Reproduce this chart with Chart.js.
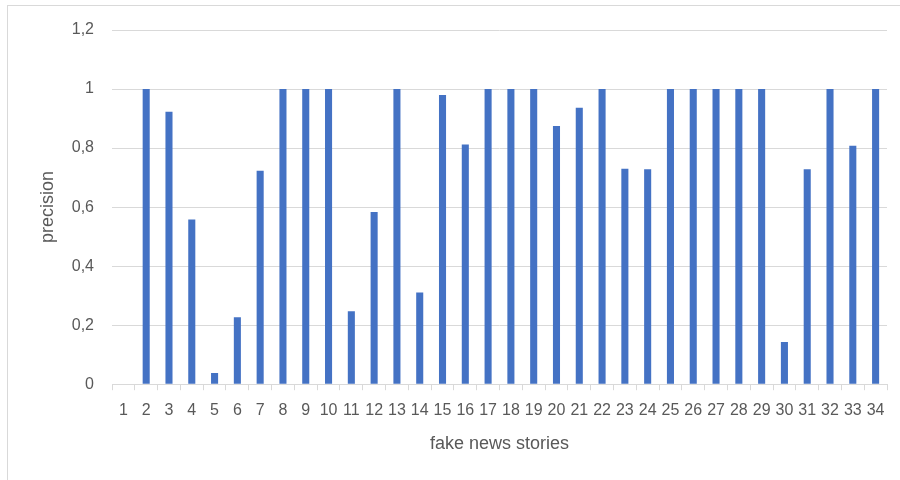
<!DOCTYPE html>
<html>
<head>
<meta charset="utf-8">
<script src="https://cdn.jsdelivr.net/npm/chart.js@4/dist/chart.umd.min.js"></script>
<style>
  html, body { margin: 0; padding: 0; background: #ffffff; }
  #wrap { position: relative; width: 900px; height: 480px; }
</style>
</head>
<body>
<div id="wrap"><canvas id="chart" width="900" height="480"></canvas></div>
<script>
// Precision per fake news story
const stories = ['1','2','3','4','5','6','7','8','9','10','11','12','13','14','15','16','17',
                 '18','19','20','21','22','23','24','25','26','27','28','29','30','31','32','33','34'];
const precision = [0, 1, 0.923, 0.558, 0.038, 0.227, 0.723, 1, 1, 1, 0.247, 0.583, 1, 0.311, 0.98, 0.812, 1,
                   1, 1, 0.875, 0.937, 1, 0.73, 0.728, 1, 1, 1, 1, 1, 0.143, 0.728, 1, 0.808, 1];
const yTicks = [0, 0.2, 0.4, 0.6, 0.8, 1, 1.2];

const textColor = '#595959';
const gridColor = '#d9d9d9';
const barColor = '#4472C4';
const fontFamily = "'Liberation Sans', Arial, sans-serif";

// Thin frame around the chart area (left and top edges visible)
const frame = {
  id: 'frame',
  beforeDraw(chart) {
    const ctx = chart.ctx;
    ctx.save();
    ctx.strokeStyle = gridColor;
    ctx.lineWidth = 1;
    ctx.strokeRect(7.5, 5.5, 1000, 1000);
    ctx.restore();
  }
};

new Chart(document.getElementById('chart'), {
  type: 'bar',
  data: {
    labels: stories,
    datasets: [{
      data: precision,
      backgroundColor: barColor,
      borderWidth: 0,
      categoryPercentage: 1,
      barPercentage: 0.31
    }]
  },
  options: {
    responsive: false,
    animation: false,
    layout: { padding: { left: 37, right: 13, top: 30, bottom: 25 } },
    plugins: { legend: { display: false }, tooltip: { enabled: false } },
    scales: {
      x: {
        offset: true,
        grid: { display: true, offset: true, drawOnChartArea: false, drawTicks: true, tickLength: 6, color: gridColor },
        border: { display: true, color: gridColor },
        ticks: { color: textColor, font: { family: fontFamily, size: 16 }, padding: 11, maxRotation: 0, autoSkip: false },
        title: { display: true, text: 'fake news stories', color: textColor, font: { family: fontFamily, size: 18 }, padding: { top: 2, bottom: 0 } }
      },
      y: {
        min: 0,
        max: 1.2,
        afterBuildTicks(scale) { scale.ticks = yTicks.map(v => ({ value: v })); },
        grid: { color: gridColor, drawTicks: false },
        border: { display: false },
        ticks: {
          color: textColor,
          font: { family: fontFamily, size: 16 },
          padding: 18,
          callback: v => String(Math.round(v * 10) / 10).replace('.', ',')
        },
        title: { display: true, text: 'precision', color: textColor, font: { family: fontFamily, size: 18 }, padding: { top: 0, bottom: 4 } },
        afterFit(scale) { scale.width = 75; }
      }
    }
  },
  plugins: [frame]
});
</script>
</body>
</html>
